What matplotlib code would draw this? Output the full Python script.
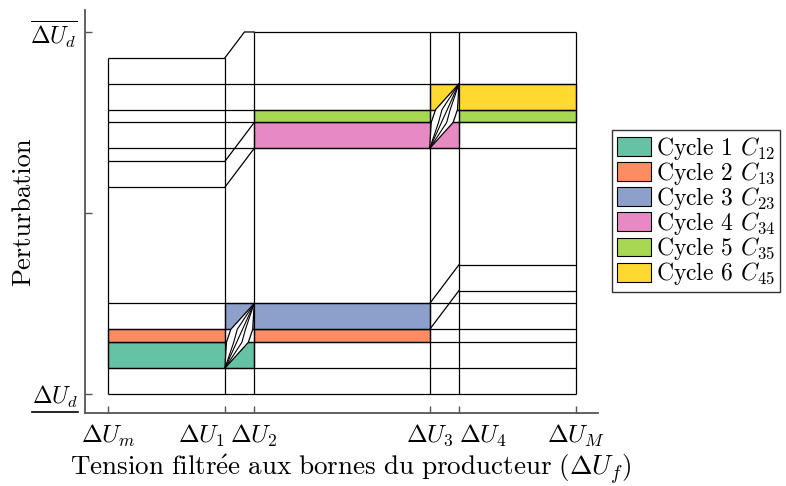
import matplotlib
matplotlib.use("Agg")
import matplotlib.pyplot as plt
from matplotlib.patches import Rectangle, Polygon, Patch
from matplotlib.lines import Line2D

plt.rcParams['font.family'] = 'serif'
plt.rcParams['font.serif'] = ['cmr10', 'DejaVu Serif']
plt.rcParams['mathtext.fontset'] = 'cm'
plt.rcParams['axes.unicode_minus'] = False
plt.rcParams['axes.formatter.use_mathtext'] = True

# ---- data ----
x_bounds = [0.0, 0.25, 0.3125, 0.6875, 0.75, 1.0]          # ΔUm, ΔU1, ΔU2, ΔU3, ΔU4, ΔUM
x_labels = [r"$\Delta U_m$", r"$\Delta U_1$", r"$\Delta U_2$",
            r"$\Delta U_3$", r"$\Delta U_4$", r"$\Delta U_M$"]
x_label_align = ['center', 'right', 'center', 'center', 'left', 'center']
y_ticks = [0, 14, 28]                                         # levels in 1/28 of the range
y_labels = [r"$\Delta U_d$", "", r"$\overline{\Delta U_d}$"]

# horizontal threshold levels in each region between consecutive x_bounds
region_levels = [
    [0, 2, 4, 5, 7, 16, 18, 19, 21, 22, 24, 26],
    [0, 2, 4, 5, 7, 19, 21, 22, 24],
    [0, 2, 4, 5, 7, 19, 21, 22, 24, 28],
    [0, 2, 4, 5, 7, 19, 21, 22, 24, 28],
    [0, 2, 4, 5, 7, 8, 10, 19, 21, 22, 24, 28],
]
# ramps: (region, start level, end level); rise of 3 levels per region width
ramps = [(1, 16, 19), (1, 18, 21), (1, 26, 28), (3, 5, 8), (3, 7, 10)]
ramp_rise = 3
# vertical boundary tops
v_tops = [26, 26, 28, 28, 28, 28]

cycle_names = ["Cycle 1 $C_{12}$", "Cycle 2 $C_{13}$", "Cycle 3 $C_{23}$",
               "Cycle 4 $C_{34}$", "Cycle 5 $C_{35}$", "Cycle 6 $C_{45}$"]
cycle_colors = ["#66c2a5", "#fc8d62", "#8da0cb", "#e78ac3", "#a6d854", "#ffd92f"]
# bands: (cycle index, low level, high level, first bound index, last bound index)
bands = [
    (0, 2, 4, 0, 2),
    (1, 4, 5, 0, 1),
    (1, 4, 5, 2, 3),
    (2, 5, 7, 1, 3),
    (3, 19, 21, 2, 4),
    (4, 21, 22, 2, 3),
    (4, 21, 22, 4, 5),
    (5, 22, 24, 3, 5),
]
# hysteresis lenses: (region, low level, high level)
lenses = [(1, 2, 7), (3, 19, 24)]

# ---- figure ----
fig = plt.figure(figsize=(7.86, 4.86), dpi=100)
ax = fig.add_axes([85 / 786, 73 / 486, 513 / 786, 403 / 486])
lw = 0.9

for ci, lo, hi, i0, i1 in bands:
    ax.add_patch(Rectangle((x_bounds[i0], lo), x_bounds[i1] - x_bounds[i0], hi - lo,
                           facecolor=cycle_colors[ci], edgecolor='black', lw=lw, zorder=1))

for r, levels in enumerate(region_levels):
    ax.hlines(levels, x_bounds[r], x_bounds[r + 1], colors='black', lw=lw, zorder=2)

for r, y0, y1 in ramps:
    xa, xb = x_bounds[r], x_bounds[r + 1]
    xm = xa + (xb - xa) * (y1 - y0) / ramp_rise
    ax.plot([xa, xm, xb], [y0, y1, y1], color='black', lw=lw, zorder=2,
            solid_joinstyle='miter')

for xb_, top in zip(x_bounds, v_tops):
    ax.vlines(xb_, 0, top, colors='black', lw=lw, zorder=2)

lens_outer = [(0, 0), (0.05, 0.4), (0.2, 0.6), (1, 1), (0.95, 0.6), (0.8, 0.4)]
lens_inner = [[(0, 0), (1, 1)],
              [(0, 0), (0.3, 0.4), (0.42, 0.6), (1, 1)],
              [(0, 0), (0.58, 0.4), (0.7, 0.6), (1, 1)]]
for r, lo, hi in lenses:
    xa, xb = x_bounds[r], x_bounds[r + 1]
    def tr(p):
        return (xa + p[0] * (xb - xa), lo + p[1] * (hi - lo))
    ax.add_patch(Polygon([tr(p) for p in lens_outer], closed=True, facecolor='white',
                         edgecolor='black', lw=lw, zorder=3))
    for line in lens_inner:
        pts = [tr(p) for p in line]
        ax.plot([p[0] for p in pts], [p[1] for p in pts], color='black', lw=0.8, zorder=4)

ax.set_xlim(-0.049, 1.047)
ax.set_ylim(-1.47, 29.7)
for s in ['top', 'right']:
    ax.spines[s].set_visible(False)
for s in ['left', 'bottom']:
    ax.spines[s].set_color('#555555')
    ax.spines[s].set_linewidth(1.3)

ax.set_xticks(x_bounds)
ax.set_xticklabels(x_labels, fontsize=18)
for t, ha in zip(ax.get_xticklabels(), x_label_align):
    t.set_ha(ha)
ax.set_yticks(y_ticks)
ax.set_yticklabels(y_labels, fontsize=17)
ax.tick_params(direction='in', length=5, color='#555555', width=1)
ax.tick_params(axis='x', pad=7)
ax.tick_params(axis='y', pad=5)

ax.set_xlabel(r"$\mathrm{Tension\ filtr\acute{e}e\ aux\ bornes\ du\ producteur}\ (\Delta U_f)$",
              fontsize=19.5)
ax.xaxis.set_label_coords(0.517, -0.097)
ax.set_ylabel("Perturbation", fontsize=19)
ax.yaxis.set_label_coords(-0.097, 0.5)

handles = [Patch(facecolor=c, edgecolor='black', lw=0.8) for c in cycle_colors]
leg = fig.legend(handles, cycle_names, loc='center left', bbox_to_anchor=(612 / 786, 275 / 486),
                 fontsize=17, frameon=True, fancybox=False, edgecolor='black',
                 handlelength=1.45, handleheight=0.85, handletextpad=0.2,
                 labelspacing=-0.08, borderpad=0.2, borderaxespad=0)
leg.get_frame().set_linewidth(1.0)

# underline for the lower ΔU_d tick label
fig.canvas.draw()
renderer = fig.canvas.get_renderer()
bb = ax.get_yticklabels()[0].get_window_extent(renderer)
inv = fig.transFigure.inverted()
(xa_, ya_), (xb_, _) = inv.transform([(bb.x0, bb.y0 - 2), (bb.x1, bb.y0 - 2)])
fig.add_artist(Line2D([xa_, xb_], [ya_, ya_], transform=fig.transFigure, color='black', lw=1.2))

fig.savefig("out.png", dpi=100)
